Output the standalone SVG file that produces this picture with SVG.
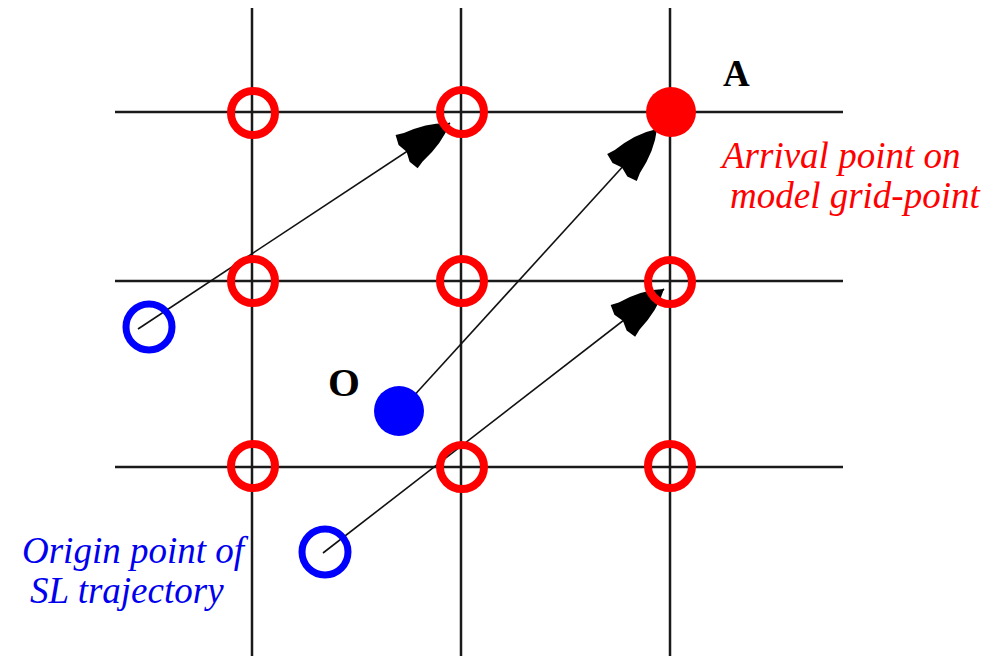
<svg xmlns="http://www.w3.org/2000/svg" width="1003" height="656" viewBox="0 0 1003 656">
  <style>
    .grid { stroke: #1a1a1a; stroke-width: 2.5; fill: none; }
    .ring-red { fill: none; stroke: #ff0000; stroke-width: 8; }
    .ring-blue { fill: none; stroke: #0000ff; stroke-width: 7; }
    .traj { stroke: #111; stroke-width: 1.6; fill: none; marker-end: url(#head); }
    .lbl { font-family: "Liberation Serif", "Times New Roman", serif; font-weight: bold; fill: #000; }
    .note { font-family: "Liberation Serif", "Times New Roman", serif; font-style: italic; font-size: 37px; }
  </style>
  <defs>
    <!-- heavy solid arrowhead with slightly bulging sides, drawn in user units -->
    <marker id="head" markerUnits="userSpaceOnUse" markerWidth="80" markerHeight="60" viewBox="-70 -30 80 60" refX="0" refY="0" orient="auto">
      <path d="M0,0 Q-18,-13 -44,-17 L-52,-20 L-55,-10 L-52,0 L-55,10 L-52,20 L-44,17 Q-18,13 0,0 Z" fill="#000"/>
    </marker>
  </defs>
  <rect width="1003" height="656" fill="#fff"/>

  <g id="grid">
    <line class="grid" x1="252" y1="8" x2="252" y2="656"/>
    <line class="grid" x1="461" y1="8" x2="461" y2="656"/>
    <line class="grid" x1="670" y1="8" x2="670" y2="656"/>
    <line class="grid" x1="115" y1="112" x2="843" y2="112"/>
    <line class="grid" x1="115" y1="281" x2="843" y2="281"/>
    <line class="grid" x1="115" y1="467" x2="843" y2="467"/>
  </g>

  <g id="connectors">
    <line class="traj" x1="138" y1="329" x2="450" y2="123"/>
    <line class="traj" x1="410" y1="400" x2="657" y2="129"/>
    <line class="traj" x1="323" y1="553" x2="664" y2="289"/>
  </g>

  <g id="grid-points">
    <circle class="ring-red" cx="253" cy="113" r="22"/>
    <circle class="ring-red" cx="462" cy="112" r="22"/>
    <circle class="ring-red" cx="253" cy="281" r="22"/>
    <circle class="ring-red" cx="462" cy="281" r="22"/>
    <circle class="ring-red" cx="670" cy="282" r="22"/>
    <circle class="ring-red" cx="253" cy="466" r="22"/>
    <circle class="ring-red" cx="462" cy="467" r="22"/>
    <circle class="ring-red" cx="670" cy="466" r="22"/>
  </g>

  <g id="arrival-A">
    <circle cx="671" cy="112" r="25" fill="#ff0000"/>
    <text class="lbl" x="723" y="86" font-size="37">A</text>
  </g>

  <g id="departure-O">
    <circle cx="399" cy="411" r="25" fill="#0000ff"/>
    <text class="lbl" x="328" y="396" font-size="41">O</text>
  </g>

  <g id="origin-1">
    <circle class="ring-blue" cx="149" cy="327" r="23"/>
  </g>
  <g id="origin-2">
    <circle class="ring-blue" cx="325" cy="552" r="23"/>
  </g>

  <g id="arrival-note">
    <text class="note" fill="#ff0000" x="722" y="168">Arrival point on</text>
    <text class="note" fill="#ff0000" x="730" y="208">model grid-point</text>
  </g>

  <g id="origin-note">
    <text class="note" fill="#0000ee" x="22" y="563">Origin point of</text>
    <text class="note" fill="#0000ee" x="30" y="603">SL trajectory</text>
  </g>
</svg>
